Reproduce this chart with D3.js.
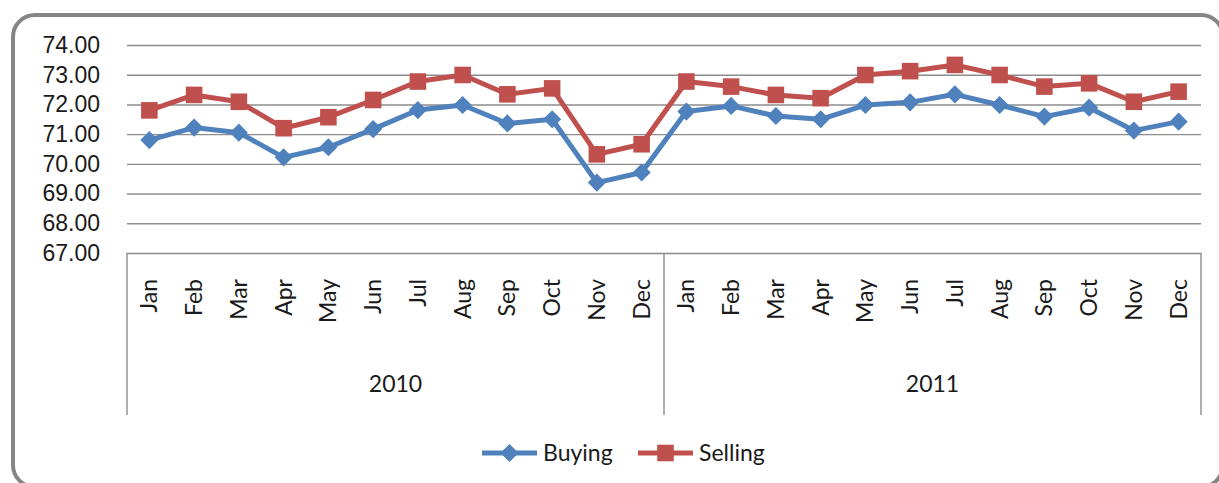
<!DOCTYPE html>
<html>
<head>
<meta charset="utf-8">
<script src="https://cdn.jsdelivr.net/npm/d3@7"></script>
<style>
  body { margin: 0; background: #fff; }
  svg { display: block; font-family: Lato, "Open Sans", sans-serif; }
</style>
</head>
<body>
<svg></svg>
<script>
// Chart data
const months = ["Jan", "Feb", "Mar", "Apr", "May", "Jun", "Jul", "Aug", "Sep", "Oct", "Nov", "Dec"];
const years = ["2010", "2011"];
const buying = [70.80, 71.22, 71.05, 70.22, 70.56, 71.17, 71.81, 71.98, 71.36, 71.50, 69.37, 69.71,
                71.76, 71.95, 71.61, 71.50, 71.98, 72.07, 72.34, 71.98, 71.59, 71.89, 71.12, 71.42];
const selling = [71.80, 72.32, 72.09, 71.20, 71.57, 72.15, 72.77, 72.99, 72.34, 72.54, 70.32, 70.66,
                 72.77, 72.60, 72.32, 72.21, 72.99, 73.12, 73.33, 72.99, 72.60, 72.71, 72.09, 72.43];
const yTicks = [67, 68, 69, 70, 71, 72, 73, 74];

const width = 1219;
const height = 483;
const svg = d3.select("svg")
    .attr("width", width)
    .attr("height", height);

// Rounded chart frame
svg.append("rect")
    .attr("x", 13).attr("y", 15)
    .attr("width", 1210).attr("height", 472)
    .attr("rx", 22).attr("ry", 22)
    .attr("fill", "none")
    .attr("stroke", "#858585")
    .attr("stroke-width", 4);

const plot = { left: 127, right: 1201, top: 45, bottom: 253 };

// One slot per month over both years
const categories = d3.range(years.length * months.length);
const x = d3.scaleBand()
    .domain(categories)
    .range([plot.left, plot.right]);
const cx = i => x(i) + x.bandwidth() / 2;

const y = d3.scaleLinear()
    .domain([67, 74])
    .range([plot.bottom, plot.top]);

// Gridlines + value labels
const yAxis = svg.append("g")
    .attr("transform", `translate(${plot.left},0)`)
    .call(d3.axisLeft(y)
        .tickValues(yTicks)
        .tickFormat(d3.format(".2f"))
        .tickSize(-(plot.right - plot.left))
        .tickPadding(27));
yAxis.select(".domain").remove();
yAxis.selectAll(".tick line")
    .attr("stroke", "#8c8c8c")
    .attr("stroke-width", 1.4);
yAxis.selectAll(".tick text")
    .attr("font-size", 23)
    .attr("fill", "#1a1a1a");

// Category box: group separators below the plot
const boxBottom = 415;
const groupEdges = d3.range(years.length + 1).map(g => x(g * months.length) ?? plot.right);
svg.selectAll(".sep")
    .data(groupEdges)
    .join("line")
    .attr("class", "sep")
    .attr("x1", d => d).attr("x2", d => d)
    .attr("y1", plot.bottom).attr("y2", boxBottom)
    .attr("stroke", "#8c8c8c")
    .attr("stroke-width", 1.4);

// Month labels (rotated)
svg.selectAll(".month")
    .data(categories)
    .join("text")
    .attr("class", "month")
    .attr("transform", i => `translate(${cx(i)},279) rotate(-90)`)
    .attr("text-anchor", "end")
    .attr("dy", "0.35em")
    .attr("font-size", 23)
    .attr("fill", "#1a1a1a")
    .text(i => months[i % months.length]);

// Year labels centred under each group
svg.selectAll(".year")
    .data(years)
    .join("text")
    .attr("class", "year")
    .attr("x", (d, g) => (groupEdges[g] + groupEdges[g + 1]) / 2)
    .attr("y", 384)
    .attr("dy", "0.35em")
    .attr("text-anchor", "middle")
    .attr("font-size", 23)
    .attr("fill", "#1a1a1a")
    .text(d => d);

// Series
const series = [
    { name: "Buying", values: buying, color: "#4F81BD", marker: d3.symbolDiamond2, size: 210 },
    { name: "Selling", values: selling, color: "#C0504D", marker: d3.symbolSquare2, size: 350 }
];

const line = d3.line()
    .x((d, i) => cx(i))
    .y(d => y(d));

series.forEach(s => {
    svg.append("path")
        .datum(s.values)
        .attr("fill", "none")
        .attr("stroke", s.color)
        .attr("stroke-width", 5)
        .attr("stroke-linejoin", "round")
        .attr("d", line);

    svg.selectAll(null)
        .data(s.values)
        .join("path")
        .attr("transform", (d, i) => `translate(${cx(i)},${y(d)})`)
        .attr("d", d3.symbol(s.marker, s.size))
        .attr("fill", s.color);
});

// Legend
const legendX = [482, 638];
const legendY = 453;
series.forEach((s, k) => {
    const g = svg.append("g").attr("transform", `translate(${legendX[k]},${legendY})`);
    g.append("line")
        .attr("x1", 0).attr("x2", 55)
        .attr("stroke", s.color)
        .attr("stroke-width", 5);
    g.append("path")
        .attr("transform", "translate(27.5,0)")
        .attr("d", d3.symbol(s.marker, s.size))
        .attr("fill", s.color);
    g.append("text")
        .attr("x", 61)
        .attr("dy", "0.35em")
        .attr("font-size", 23)
        .attr("fill", "#1a1a1a")
        .text(s.name);
});
</script>
</body>
</html>
